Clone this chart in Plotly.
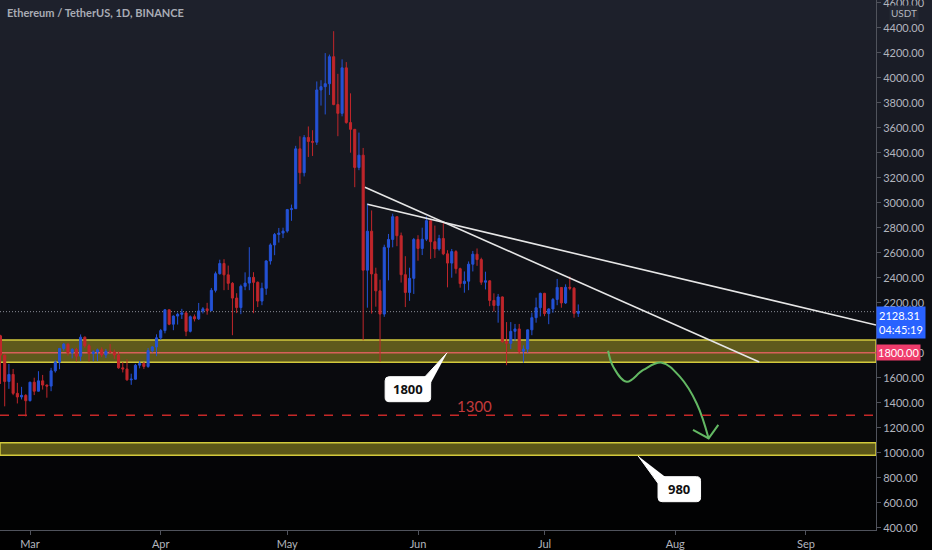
import pandas as pd
import plotly.graph_objects as go

# daily ETH/USDT candles, 22 Feb - 9 Jul 2021
DATES = pd.date_range("2021-02-22", "2021-07-09", freq="D")

OPEN = [1935, 1781, 1570, 1626, 1475, 1446, 1459,
        1416, 1564, 1492, 1575, 1541, 1533, 1655, 1724, 1834, 1868, 1799, 1826, 1772, 1924, 1855,
        1792, 1806, 1823, 1782, 1810, 1806, 1781, 1679, 1670, 1583, 1588, 1700, 1715, 1690, 1817, 1846,
        1919, 1977, 2143, 2028, 2093, 2107, 2118, 1971, 2088, 2071, 2134, 2151, 2137, 2299, 2432,
        2514, 2423, 2355, 2237, 2161, 2331, 2357, 2403, 2363, 2213, 2315, 2534, 2662, 2746, 2757,
        2773, 2945, 2952, 3431, 3240, 3522, 3490, 3484, 3902, 3928, 3952, 4168, 3785, 3715, 4079,
        3641, 3587, 3282, 3380, 2460, 2772, 2430, 2295, 2109, 2643, 2706, 2888, 2736, 2424, 2282, 2395,
        2706, 2634, 2708, 2856, 2688, 2630, 2714, 2591, 2517, 2609, 2472, 2353, 2372, 2508, 2588,
        2545, 2364, 2375, 2218, 2178, 2246, 1889, 1875, 1971, 1990, 1812, 1829, 1983, 2080, 2160,
        2275, 2113, 2150, 2226, 2322, 2198, 2323, 2316, 2115]
HIGH = [1943, 1784, 1710, 1670, 1559, 1527, 1468,
        1567, 1600, 1652, 1622, 1546, 1679, 1738, 1838, 1878, 1875, 1837, 1839, 1946, 1930, 1869,
        1818, 1833, 1843, 1830, 1869, 1825, 1809, 1725, 1748, 1632, 1710, 1734, 1725, 1838, 1852, 1947,
        1990, 2148, 2145, 2098, 2120, 2151, 2132, 2098, 2106, 2198, 2165, 2199, 2318, 2449, 2544,
        2548, 2497, 2365, 2276, 2345, 2443, 2644, 2444, 2370, 2360, 2540, 2675, 2758, 2798, 2800,
        2950, 2985, 3455, 3531, 3541, 3610, 3580, 3970, 3980, 4197, 4185, 4372, 4031, 4147, 4125,
        3875, 3590, 3561, 3438, 2994, 2938, 2480, 2384, 2664, 2750, 2912, 2888, 2761, 2572, 2480, 2718,
        2740, 2800, 2890, 2858, 2817, 2743, 2845, 2620, 2630, 2620, 2480, 2450, 2530, 2614, 2634,
        2560, 2448, 2380, 2275, 2270, 2250, 2045, 2045, 2030, 2030, 1858, 1985, 2120, 2240, 2280,
        2279, 2155, 2238, 2390, 2322, 2347, 2410, 2325, 2186]
LOW = [1550, 1371, 1511, 1460, 1394, 1426, 1290,
       1410, 1461, 1490, 1505, 1440, 1492, 1641, 1668, 1816, 1777, 1755, 1730, 1732, 1840, 1730,
       1730, 1733, 1765, 1757, 1795, 1751, 1672, 1642, 1576, 1543, 1585, 1675, 1670, 1679, 1802, 1772,
       1902, 1955, 2020, 1980, 2025, 2070, 1932, 1962, 2050, 2062, 2114, 2104, 2132, 2282, 2425,
       2300, 2302, 1940, 2117, 2108, 2300, 2300, 2116, 2165, 2180, 2263, 2505, 2580, 2681, 2717,
       2760, 2855, 2950, 3150, 3210, 3366, 3374, 3462, 3777, 3706, 3862, 3780, 3532, 3691, 3632,
       3400, 3124, 3260, 1900, 2160, 2113, 2168, 1728, 2087, 2379, 2643, 2652, 2361, 2165, 2215, 2270,
       2536, 2581, 2693, 2550, 2558, 2616, 2580, 2323, 2400, 2433, 2320, 2280, 2300, 2450, 2495,
       2343, 2306, 2172, 2130, 2040, 1880, 1700, 1830, 1895, 1788, 1720, 1800, 1940, 2040, 2090,
       2092, 2028, 2120, 2180, 2160, 2190, 2300, 2080, 2086]
CLOSE = OPEN[1:] + [2128.31]

LAST_PRICE = 2128.31
SUPPORT_ZONES = [(1723, 1901), (979, 1080)]
SUPPORT_LINE = 1800
TARGET_LINE = 1300

# drawings on the chart: trend lines, projected path, callouts
TREND_A = (["2021-05-19 10:00", "2021-08-20 22:00"], [3123, 1726])
TREND_B = (["2021-05-20 00:00", "2021-09-17 14:24"], [2987, 2022])
PATH_X = ["2021-07-16 02:00", "2021-07-17 07:00", "2021-07-20 12:00", "2021-07-24 10:00",
          "2021-07-28 19:00", "2021-08-02 02:00", "2021-08-06 02:00", "2021-08-08 22:00"]
PATH_Y = [1816, 1688, 1568, 1662, 1720, 1608, 1394, 1114]
HEAD_X = ["2021-08-05 05:00", "2021-08-08 22:00", "2021-08-11 05:00"]
HEAD_Y = [1182, 1114, 1222]
CALLOUTS = [
    # text, box x0, box x1, box y0, box y1, wedge xs, wedge ys
    ("1800", "2021-05-24 05:00", "2021-06-04 00:00", 1408, 1608,
     ["2021-06-07 22:00", "2021-06-02 16:00", "2021-06-04 00:00"], [1800, 1608, 1555]),
    ("980", "2021-07-27 22:00", "2021-08-07 00:00", 608, 808,
     ["2021-07-23 05:00", "2021-07-27 22:00", "2021-07-29 14:00"], [974, 755, 808]),
]

X_RANGE = ["2021-02-21 21:16", "2021-09-17 14:24"]
Y_RANGE = [381.6, 4621.6]
PLOT_W, PLOT_H = 876, 530


def to_paper(t, p):
    t0, t1 = pd.Timestamp(X_RANGE[0]), pd.Timestamp(X_RANGE[1])
    return (pd.Timestamp(t) - t0) / (t1 - t0), (p - Y_RANGE[0]) / (Y_RANGE[1] - Y_RANGE[0])


def rounded_box(x0, x1, y0, y1, r=4):
    (a, b), (c, d) = to_paper(x0, y0), to_paper(x1, y1)
    rx, ry = r / PLOT_W, r / PLOT_H
    return ("M %f,%f L %f,%f Q %f,%f %f,%f L %f,%f Q %f,%f %f,%f "
            "L %f,%f Q %f,%f %f,%f L %f,%f Q %f,%f %f,%f Z" % (
                a + rx, b, c - rx, b, c, b, c, b + ry, c, d - ry, c, d, c - rx, d,
                a + rx, d, a, d, a, d - ry, a, b + ry, a, b, a + rx, b))


fig = go.Figure()

fig.add_trace(go.Candlestick(
    x=DATES, open=OPEN, high=HIGH, low=LOW, close=CLOSE,
    increasing=dict(line=dict(color="#2452d6", width=1), fillcolor="#2452d6"),
    decreasing=dict(line=dict(color="#c0262b", width=1), fillcolor="#c0262b"),
    whiskerwidth=0, showlegend=False, hoverinfo="skip"))

for xs, ys in (TREND_A, TREND_B):
    fig.add_trace(go.Scatter(x=xs, y=ys, mode="lines", line=dict(color="#e6e6e6", width=1.6),
                             showlegend=False, hoverinfo="skip"))

fig.add_trace(go.Scatter(x=PATH_X, y=PATH_Y, mode="lines",
                         line=dict(color="#63b863", width=2, shape="spline", smoothing=1.1),
                         showlegend=False, hoverinfo="skip"))
fig.add_trace(go.Scatter(x=HEAD_X, y=HEAD_Y, mode="lines", line=dict(color="#63b863", width=2),
                         showlegend=False, hoverinfo="skip"))

shapes = []
# background gradient (dark slate at top fading to black)
top, bot = (30, 33, 44), (0, 0, 0)
n = 55
for i in range(n):
    p0, p1 = i * 550 / n, (i + 1) * 550 / n
    t = (p0 + p1) / 2 / 550
    c = tuple(round(a + (b - a) * t) for a, b in zip(top, bot))
    shapes.append(dict(type="rect", xref="paper", yref="paper", x0=-0.01, x1=1.1,
                       y0=1 - (p1 + 1) / PLOT_H, y1=1 - p0 / PLOT_H, layer="below",
                       fillcolor="rgb(%d,%d,%d)" % c, line=dict(width=0)))

for lo, hi in SUPPORT_ZONES:
    shapes.append(dict(type="rect", xref="paper", yref="y", x0=0, x1=1, y0=lo, y1=hi, layer="below",
                       fillcolor="rgba(195,185,45,0.45)", line=dict(color="#d2c93c", width=1.5)))
shapes.append(dict(type="line", xref="paper", yref="y", x0=0, x1=1, y0=SUPPORT_LINE, y1=SUPPORT_LINE,
                   layer="below", line=dict(color="#d8605a", width=1.5)))
shapes.append(dict(type="line", xref="paper", yref="y", x0=0, x1=1, y0=TARGET_LINE, y1=TARGET_LINE,
                   line=dict(color="#c62828", width=1.5, dash="dash")))
shapes.append(dict(type="line", xref="paper", yref="y", x0=0, x1=1, y0=LAST_PRICE, y1=LAST_PRICE,
                   layer="below", line=dict(color="#8a8d96", width=1, dash="1px,2px")))

annotations = [
    dict(text="Ethereum / TetherUS, 1D, BINANCE", xref="paper", yref="paper", x=0, y=1,
         xanchor="left", yanchor="top", xshift=5, yshift=-4, showarrow=False,
         font=dict(family="Lato", size=11, color="#a9acb5", weight="bold")),
    dict(text="1300", x="2021-06-14 12:00", y=1376, showarrow=False,
         font=dict(family="Lato", size=15, color="#c23a3c")),
]

for text, bx0, bx1, by0, by1, wx, wy in CALLOUTS:
    fig.add_trace(go.Scatter(x=wx, y=wy, mode="lines", fill="toself", fillcolor="white",
                             line=dict(color="white", width=1), showlegend=False, hoverinfo="skip"))
    shapes.append(dict(type="path", xref="paper", yref="paper", path=rounded_box(bx0, bx1, by0, by1),
                       fillcolor="white", line=dict(color="white", width=1)))
    mid = pd.Timestamp(bx0) + (pd.Timestamp(bx1) - pd.Timestamp(bx0)) / 2
    annotations.append(dict(text="<b>%s</b>" % text, x=mid, y=(by0 + by1) / 2, showarrow=False,
                            font=dict(family="Noto Sans", size=13, color="#111111")))

annotations += [
    dict(text="%.2f<br>04:45:19" % LAST_PRICE, xref="paper", yref="y", x=1, y=LAST_PRICE,
         xanchor="left", yanchor="top", yshift=6, showarrow=False, align="left",
         bgcolor="#2962ff", borderpad=2, font=dict(family="Lato", size=11, color="white")),
    dict(text="%.2f" % SUPPORT_LINE, xref="paper", yref="y", x=1, y=SUPPORT_LINE,
         xanchor="left", yanchor="middle", showarrow=False, bgcolor="#f03c6c", borderpad=1,
         font=dict(family="Lato", size=11, color="white")),
    dict(text="USDT", xref="paper", yref="paper", x=1, y=1, xanchor="left", yanchor="top",
         xshift=13, yshift=-5, showarrow=False, bgcolor="#252833", borderpad=1,
         font=dict(family="Lato", size=10, color="#b2b5be")),
]

axis_font = dict(family="Lato", size=11, color="#b2b5be")
fig.update_layout(
    width=932, height=550,
    margin=dict(l=0, r=56, t=0, b=20, autoexpand=False),
    paper_bgcolor="#000000", plot_bgcolor="rgba(0,0,0,0)",
    shapes=shapes, annotations=annotations,
    xaxis=dict(type="date", range=X_RANGE, rangeslider=dict(visible=False), showgrid=False,
               zeroline=False, showline=True, linecolor="#50535c", linewidth=1,
               ticks="outside", ticklen=4, tickcolor="#50535c", dtick="M1",
               tick0="2021-03-01", tickformat="%b", tickfont=axis_font),
    yaxis=dict(side="right", range=Y_RANGE, showgrid=False, zeroline=False, showline=True,
               linecolor="#50535c", linewidth=1, ticks="outside", ticklen=4, tickcolor="#50535c",
               dtick=200, tick0=0, tickformat=".2f", tickfont=axis_font,
               ticklabeloverflow="allow"),
)

# the page body has a default 8px margin; drop it so the chart fills the window
fig.write_html("out.html", config={"displayModeBar": False},
               post_script="document.body.style.margin='0';")
